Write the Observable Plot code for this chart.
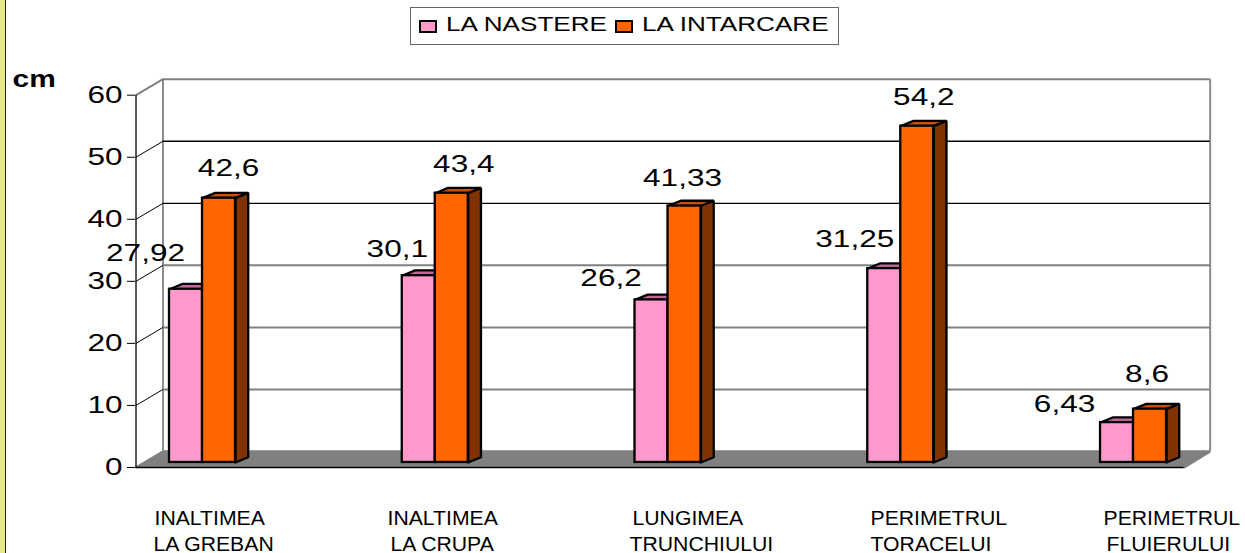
<!DOCTYPE html>
<html>
<head>
<meta charset="utf-8">
<script src="https://cdn.jsdelivr.net/npm/d3@7"></script>
<script src="https://cdn.jsdelivr.net/npm/@observablehq/plot@0.6"></script>
<style>
  html, body { margin: 0; padding: 0; background: #fff; overflow: hidden; }
  #page { position: relative; width: 1245px; height: 553px; font-family: "Liberation Sans", Arial, sans-serif; color: #000; }
  #strip { position: absolute; left: 0; top: 0; width: 5px; height: 553px; background: #e8e88c; border-right: 1.5px solid #222; }
  #legend { position: relative; height: 47px; }
  #legend .box { position: absolute; left: 410px; top: 7px; width: 427px; height: 36px; border: 1.5px solid #666; }
  #legend .sw { position: absolute; top: 20px; width: 14px; height: 9px; border: 2px solid #000; }
  #legend .tx { position: absolute; top: 13px; font-size: 20px; line-height: 23px; white-space: nowrap; transform: scaleX(1.305); transform-origin: left center; }
  svg { display: block; }
</style>
</head>
<body>
<div id="page">
  <div id="strip"></div>
  <div id="legend"></div>
  <div id="chart"></div>
</div>
<script>
const categories = [0, 1, 2, 3, 4];
const categoryLine1 = ["INALTIMEA", "INALTIMEA", "LUNGIMEA", "PERIMETRUL", "PERIMETRUL"];
const categoryLine2 = ["LA GREBAN", "LA CRUPA", "TRUNCHIULUI", "TORACELUI", "FLUIERULUI"];
const seriesNames = ["LA NASTERE", "LA INTARCARE"];
const laNastere = [27.92, 30.1, 26.2, 31.25, 6.43];
const laIntarcare = [42.6, 43.4, 41.33, 54.2, 8.6];
const axisTicks = [0, 10, 20, 30, 40, 50, 60];

// hand-placed label nudges of the original, in pixels
const nasterePlace = [[-40.5, -28], [-21.5, -19], [-40.5, -14], [-29.5, -22], [-52.5, -11]];
const intarcarePlace = [[9.5, -22], [12, -21], [-2, -20], [6.5, -21], [-3, -27]];
const line1Dx = [-48, -47.75, -35.5, -30.25, -30];
const line2Dx = [-49, -44.75, -38.5, -30.25, -27];

const comma = v => String(v).replace(".", ",");

// geometry in data units (x = category index, y = cm)
const barW = 0.1418, depthX = 0.0546, depthY = 0.852;
const wallX0 = -0.1697, wallX1 = 4.3292, floorX0 = -0.2857, floorX1 = 4.217;
const backY = 1.77, frontY = -0.80, row1Y = -10.13, row2Y = -14.3;
const pink = "#ff99cc", pinkTop = "#c0699a", orange = "#ff6600", orangeTop = "#c85000", orangeSide = "#803300";

function barFaces(values, x0) {
  const top = [], side = [];
  values.forEach((v, i) => {
    const a = i + x0, b = a + barW;
    [[a, v], [a + depthX, v + depthY], [b + depthX, v + depthY], [b, v], [a, v]]
      .forEach(p => top.push({id: i, x: p[0], y: p[1]}));
    [[b, 0], [b + depthX, depthY], [b + depthX, v + depthY], [b, v], [b, 0]]
      .forEach(p => side.push({id: i, x: p[0], y: p[1]}));
  });
  return {top, side};
}
const fP = barFaces(laNastere, -barW), fO = barFaces(laIntarcare, 0);
const bars = (values, x0, fill) => Plot.rect(values, {
  x1: (d, i) => i + x0, x2: (d, i) => i + x0 + barW, y1: 0, y2: d => d,
  fill, stroke: "#000", strokeWidth: 2.3
});
const poly = (pts, fill, stroke = "#000") => Plot.line(pts, {x: "x", y: "y", z: "id", fill, stroke, strokeWidth: 2.3, strokeLinejoin: "miter"});

const floorPts = [[floorX0, frontY], [floorX1, frontY], [wallX1, backY], [wallX0, backY], [floorX0, frontY]]
  .map(p => ({id: 0, x: p[0], y: p[1]}));

const valueLabels = (values, place, x0) => values.map((v, i) =>
  Plot.text([v], {
    x: () => i + x0, y: d => d, text: comma, dx: place[i][0], dy: place[i][1],
    fontSize: 23, textAnchor: "middle", lineAnchor: "bottom", fill: "#000"
  }));
const rowLabels = (lines, dxs, y) => lines.map((t, i) =>
  Plot.text([t], {
    x: () => i, y: () => y, text: d => d, dx: dxs[i],
    fontSize: 20, textAnchor: "start", lineAnchor: "bottom", fill: "#000"
  }));

const chart = Plot.plot({
  width: 1245, height: 506, margin: 0,
  style: {fontFamily: "'Liberation Sans', Arial, sans-serif", background: "transparent", overflow: "visible"},
  x: {domain: [-0.8679, 4.4811], range: [0, 1245], axis: null},
  y: {domain: [66.88, -14.67], range: [0, 506], axis: null},
  marks: [
    poly(floorPts, "#808080", "#808080"),
    Plot.ruleX([wallX0, wallX1], {y1: backY, y2: 60 + backY, stroke: "#8c8c8c", strokeWidth: 2}),
    Plot.ruleY([60, 30, 20, 10].map(v => v + backY), {x1: wallX0, x2: wallX1, stroke: "#808080", strokeWidth: 2}),
    Plot.ruleY([50, 40].map(v => v + backY), {x1: wallX0, x2: wallX1, stroke: "#000", strokeWidth: 1.3}),
    Plot.link(axisTicks.slice(1, -1), {x1: floorX0, x2: wallX0, y1: d => d + frontY, y2: d => d + backY, stroke: "#000", strokeWidth: 1}),
    Plot.link([60], {x1: floorX0, x2: wallX0, y1: d => d + frontY, y2: d => d + backY, stroke: "#808080", strokeWidth: 2}),
    Plot.ruleX([floorX0], {y1: frontY, y2: 60 + frontY, stroke: "#000", strokeWidth: 1.3}),
    Plot.ruleY([frontY], {x1: floorX0, x2: floorX1, stroke: "#000", strokeWidth: 1.3}),
    Plot.axisY({
      ticks: axisTicks, anchor: "left", dx: 135, dy: 5, tickSize: 8, tickPadding: 5,
      fontSize: 23, label: null, tickFormat: d => String(d), stroke: "#000", fill: "#000"
    }),
    poly(fP.top, pinkTop),
    bars(laNastere, -barW, pink),
    poly(fO.top, orangeTop),
    poly(fO.side, orangeSide),
    bars(laIntarcare, 0, orange),
    ...valueLabels(laNastere, nasterePlace, -barW / 2),
    ...valueLabels(laIntarcare, intarcarePlace, barW / 2),
    ...rowLabels(categoryLine1, line1Dx, row1Y),
    ...rowLabels(categoryLine2, line2Dx, row2Y),
    Plot.text(["cm"], {
      frameAnchor: "top-left", text: d => d, dx: 12, dy: 39, fontSize: 23, fontWeight: "bold",
      textAnchor: "start", lineAnchor: "bottom", fill: "#000"
    })
  ]
});
document.getElementById("chart").appendChild(chart);

// the original's lettering is stretched sideways
document.querySelectorAll("#chart svg text").forEach(t => {
  const cs = getComputedStyle(t);
  const f = parseFloat(cs.fontSize) >= 22 ? (cs.fontWeight >= 600 ? 1.3 : 1.37) : 1.06;
  t.setAttribute("textLength", t.getComputedTextLength() * f);
  t.setAttribute("lengthAdjust", "spacingAndGlyphs");
});

// legend, above the svg
const legend = document.getElementById("legend");
const spec = [[419, 445.5, pink], [615, 641.5, orange]];
legend.innerHTML = '<div class="box"></div>' + seriesNames.map((n, i) =>
  `<div class="sw" style="left:${spec[i][0]}px;background:${spec[i][2]}"></div>` +
  `<div class="tx" style="left:${spec[i][1]}px">${n}</div>`).join("");
</script>
</body>
</html>
